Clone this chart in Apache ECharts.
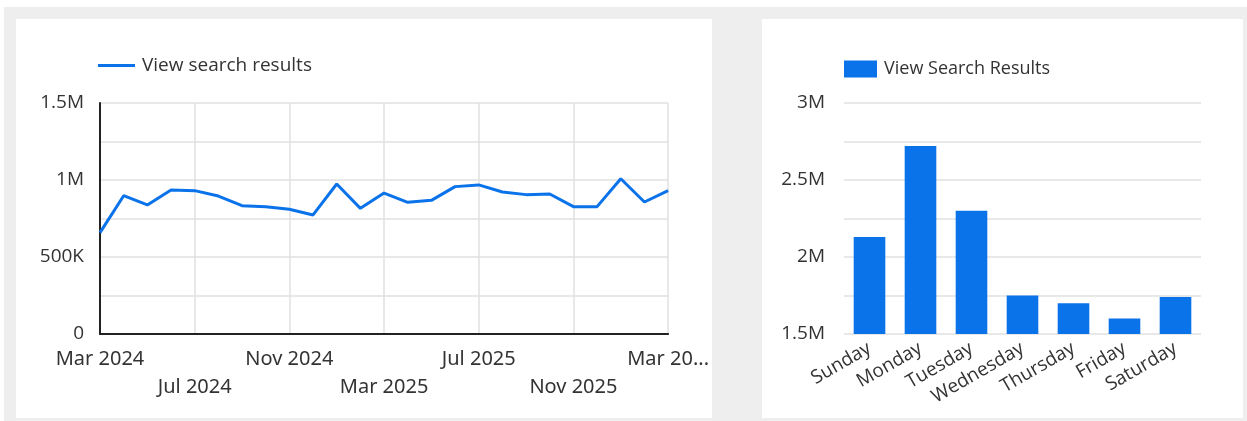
<!DOCTYPE html>
<html>
<head>
<meta charset="utf-8">
<script src="https://cdn.jsdelivr.net/npm/echarts@6/dist/echarts.min.js"></script>
<style>
  html, body { margin: 0; padding: 0; background: #ffffff; width: 1247px; height: 421px; overflow: hidden; }
  #bg { position: absolute; left: 4px; top: 7px; width: 1243px; height: 414px; background: #eeeeee; }
  .panel { position: absolute; background: #ffffff; }
  #left { left: 16px; top: 19px; width: 696px; height: 399px; }
  #right { left: 762px; top: 19px; width: 481px; height: 399px; }
</style>
</head>
<body>
<div id="bg"></div>
<div id="left" class="panel"></div>
<div id="right" class="panel"></div>
<script>
// ---- Data ----
const months = [
  'Mar 2024','Apr 2024','May 2024','Jun 2024','Jul 2024','Aug 2024','Sep 2024','Oct 2024',
  'Nov 2024','Dec 2024','Jan 2025','Feb 2025','Mar 2025','Apr 2025','May 2025','Jun 2025',
  'Jul 2025','Aug 2025','Sep 2025','Oct 2025','Nov 2025','Dec 2025','Jan 2026','Feb 2026','Mar 2026'
];
const monthlyViews = [
  658000, 898000, 838000, 935000, 931000, 896000, 833000, 827000,
  810000, 773000, 974000, 816000, 915000, 855000, 868000, 957000,
  968000, 922000, 905000, 909000, 827000, 827000, 1008000, 857000, 931000
];
const weekdays = ['Sunday','Monday','Tuesday','Wednesday','Thursday','Friday','Saturday'];
const weekdayViews = [2130000, 2720000, 2300000, 1750000, 1700000, 1600000, 1740000];
const lineSeriesName = 'View search results';
const barSeriesName = 'View Search Results';

// ---- Helpers ----
function fmtVal(v) {
  if (v === 0) return '0';
  if (v >= 1000000) return (v / 1000000) + 'M';
  return (v / 1000) + 'K';
}
const BLUE = '#0a73ea';
const FONT = '"Open Sans", sans-serif';
const TXT = '#333333';

// ---- Left line chart ----
const lc = echarts.init(document.getElementById('left'), null, { renderer: 'canvas' });
lc.setOption({
  animation: false,
  legend: {
    left: 82, top: 37, padding: 0,
    icon: 'rect', itemWidth: 37, itemHeight: 3, itemGap: 10,
    textStyle: { fontFamily: FONT, fontSize: 19, color: TXT, padding: [0, 0, 0, 2] },
    data: [lineSeriesName]
  },
  grid: { left: 84, right: 42, top: 84, bottom: 84, containLabel: false },
  xAxis: {
    type: 'category',
    data: months,
    boundaryGap: false,
    axisLine: { show: true, lineStyle: { color: '#222222', width: 2 } },
    axisTick: { show: false },
    splitLine: { show: true, interval: 3, lineStyle: { color: '#e0e0e0', width: 1.5 } },
    axisLabel: {
      interval: 3, margin: 11,
      fontFamily: '"Noto Sans", sans-serif', fontSize: 20, color: TXT, lineHeight: 28,
      formatter: function (v, i) {
        let s = v;
        if (i === months.length - 1) s = v.slice(0, 6) + '...';
        return (i / 4) % 2 === 1 ? '\n' + s : s;
      }
    }
  },
  yAxis: {
    type: 'value', min: 0, max: 1500000, interval: 250000,
    axisLine: { show: true, lineStyle: { color: '#222222', width: 2 } },
    axisTick: { show: false },
    splitLine: { show: true, lineStyle: { color: '#e0e0e0', width: 1.5 } },
    axisLabel: {
      margin: 16, fontFamily: FONT, fontSize: 19, color: TXT,
      formatter: function (v) { return v % 500000 === 0 ? fmtVal(v) : ''; }
    }
  },
  series: [{
    name: lineSeriesName, type: 'line', data: monthlyViews,
    symbol: 'none', smooth: false,
    lineStyle: { color: BLUE, width: 3 },
    itemStyle: { color: BLUE }
  }]
});

// ---- Right bar chart ----
const bc = echarts.init(document.getElementById('right'), null, { renderer: 'canvas' });
bc.setOption({
  animation: false,
  legend: {
    left: 82, top: 41, padding: 0,
    icon: 'rect', itemWidth: 33, itemHeight: 17, itemGap: 10,
    textStyle: { fontFamily: FONT, fontSize: 18, color: TXT, padding: [0, 0, 0, 2] },
    data: [barSeriesName]
  },
  grid: { left: 82, right: 42, top: 84, bottom: 84, containLabel: false },
  xAxis: {
    type: 'category', data: weekdays,
    axisLine: { show: false },
    axisTick: { show: false },
    axisLabel: {
      interval: 0, rotate: 30, margin: 13,
      fontFamily: FONT, fontSize: 19, color: TXT
    }
  },
  yAxis: {
    type: 'value', min: 1500000, max: 3000000, interval: 250000,
    axisLine: { show: false },
    axisTick: { show: false },
    splitLine: { show: true, lineStyle: { color: '#e0e0e0', width: 1.5 } },
    axisLabel: {
      margin: 19, fontFamily: FONT, fontSize: 19, color: TXT,
      formatter: function (v) { return v % 500000 === 0 ? fmtVal(v) : ''; }
    }
  },
  series: [{
    name: barSeriesName, type: 'bar', data: weekdayViews,
    barWidth: '62%',
    itemStyle: { color: BLUE }
  }]
});
</script>
</body>
</html>
